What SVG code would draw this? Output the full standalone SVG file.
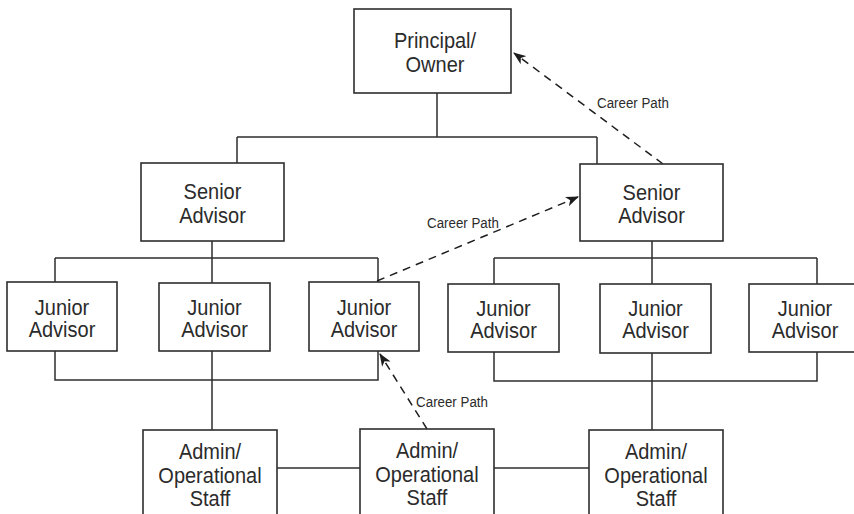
<svg xmlns="http://www.w3.org/2000/svg" width="854" height="514" viewBox="0 0 854 514">
  <style>
    .box { fill: #fff; stroke: #2e2e2e; stroke-width: 1.6; }
    .lbl { font-family: "Liberation Sans", Arial, sans-serif; font-size: 21.5px; fill: #2b2b2b; text-anchor: middle;
           transform-box: fill-box; transform-origin: center; transform: scaleX(0.93); }
    .cp { font-family: "Liberation Sans", Arial, sans-serif; font-size: 15.5px; fill: #2b2b2b; text-anchor: middle;
          transform-box: fill-box; transform-origin: center; transform: scaleX(0.86); }
    .wire { fill: none; stroke: #2e2e2e; stroke-width: 1.5; }
    .path { fill: none; stroke: #1e1e1e; stroke-width: 1.5; stroke-dasharray: 8 6; marker-end: url(#head); }
  </style>
  <defs>
    <marker id="head" viewBox="0 0 13 10" refX="12" refY="5" markerWidth="13" markerHeight="10" markerUnits="userSpaceOnUse" orient="auto">
      <path d="M0,0 L13,5 L0,10 L3.5,5 z" fill="#1e1e1e"/>
    </marker>
  </defs>
  <rect width="854" height="514" fill="#fff"/>

  <!-- reporting lines -->
  <g id="connectors">
    <path class="wire" d="M437,93 V137 M237,137 H597 M237,137 V163 M597,137 V164"/>
    <path class="wire" d="M212,241 V258 M55,258 H378 M55,258 V282 M212,258 V283 M378,258 V282"/>
    <path class="wire" d="M55,351 V380 H378 V351 M212,351 V430"/>
    <path class="wire" d="M652,241 V258 M494,258 H817 M494,258 V284 M652,258 V284 M817,258 V284"/>
    <path class="wire" d="M494,352 V381 H817 V352 M652,353 V430"/>
    <path class="wire" d="M277,468 H360 M494,468 H589"/>
    <!-- career paths -->
    <path class="path" d="M663,164 L514,53"/>
    <path class="path" d="M377,281 L578,197"/>
    <path class="path" d="M427,429 L380,354"/>
    <text class="cp" x="633" y="108">Career Path</text>
    <text class="cp" x="463" y="228">Career Path</text>
    <text class="cp" x="452" y="407">Career Path</text>
  </g>

  <g id="principal">
    <rect class="box" x="354" y="9" width="157" height="84"/>
    <text class="lbl" x="435" y="48">Principal/</text>
    <text class="lbl" x="435" y="72">Owner</text>
  </g>

  <g id="senior-left">
    <rect class="box" x="141" y="163" width="143" height="78"/>
    <text class="lbl" x="212.5" y="199">Senior</text>
    <text class="lbl" x="212.5" y="223">Advisor</text>
  </g>
  <g id="senior-right">
    <rect class="box" x="580" y="164" width="143" height="77"/>
    <text class="lbl" x="651.5" y="200">Senior</text>
    <text class="lbl" x="651.5" y="223">Advisor</text>
  </g>

  <g id="junior-1">
    <rect class="box" x="7" y="282" width="110" height="69"/>
    <text class="lbl" x="62" y="315">Junior</text>
    <text class="lbl" x="62" y="337">Advisor</text>
  </g>
  <g id="junior-2">
    <rect class="box" x="159" y="283" width="111" height="68"/>
    <text class="lbl" x="214.5" y="315">Junior</text>
    <text class="lbl" x="214.5" y="337">Advisor</text>
  </g>
  <g id="junior-3">
    <rect class="box" x="309" y="282" width="110" height="69"/>
    <text class="lbl" x="364" y="315">Junior</text>
    <text class="lbl" x="364" y="337">Advisor</text>
  </g>
  <g id="junior-4">
    <rect class="box" x="448" y="284" width="111" height="68"/>
    <text class="lbl" x="503.5" y="316">Junior</text>
    <text class="lbl" x="503.5" y="338">Advisor</text>
  </g>
  <g id="junior-5">
    <rect class="box" x="600" y="284" width="111" height="69"/>
    <text class="lbl" x="655.5" y="316">Junior</text>
    <text class="lbl" x="655.5" y="338">Advisor</text>
  </g>
  <g id="junior-6">
    <rect class="box" x="749" y="284" width="112" height="68"/>
    <text class="lbl" x="805" y="316">Junior</text>
    <text class="lbl" x="805" y="338">Advisor</text>
  </g>

  <g id="staff-1">
    <rect class="box" x="143" y="430" width="134" height="95"/>
    <text class="lbl" x="210" y="459">Admin/</text>
    <text class="lbl" x="210" y="483">Operational</text>
    <text class="lbl" x="210" y="506">Staff</text>
  </g>
  <g id="staff-2">
    <rect class="box" x="360" y="429" width="134" height="96"/>
    <text class="lbl" x="427" y="458">Admin/</text>
    <text class="lbl" x="427" y="482">Operational</text>
    <text class="lbl" x="427" y="505">Staff</text>
  </g>
  <g id="staff-3">
    <rect class="box" x="589" y="430" width="134" height="95"/>
    <text class="lbl" x="656" y="459">Admin/</text>
    <text class="lbl" x="656" y="483">Operational</text>
    <text class="lbl" x="656" y="506">Staff</text>
  </g>
</svg>
